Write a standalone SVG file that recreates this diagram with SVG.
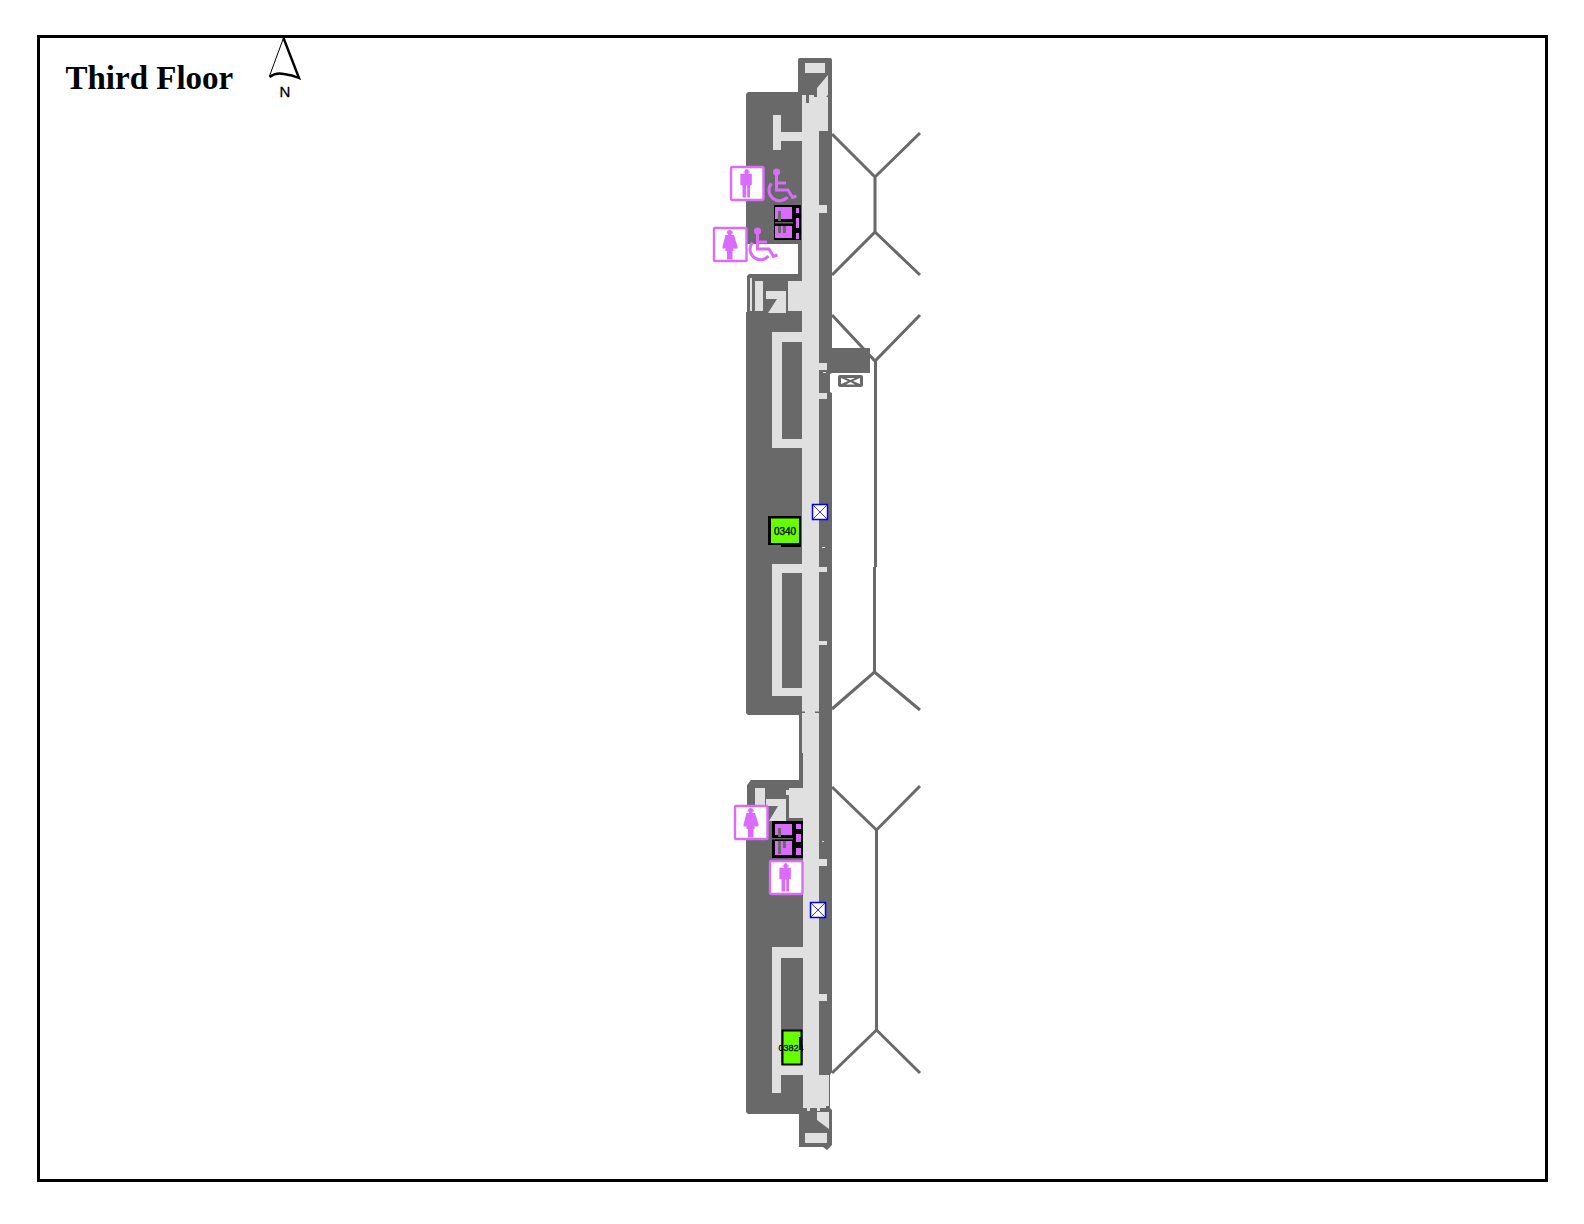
<svg xmlns="http://www.w3.org/2000/svg" xmlns:xlink="http://www.w3.org/1999/xlink" width="1584" height="1224" viewBox="0 0 1584 1224">
<style>
.dark{fill:#696969}
.light{fill:#e0e0e0}
.hex{fill:none;stroke:#696969;stroke-width:3;stroke-linejoin:miter}
.sign{fill:#fff;stroke:#db6bfb;stroke-width:2.400}
.mag{fill:#db6bfb}
.blk{fill:#000}
.gbar{fill:#696969}
.wc{fill:none;stroke:#db6bfb;stroke-width:3}
.x{fill:#fff;stroke:#00f;stroke-width:1.500}
.xl{stroke:#00f;stroke-width:.8}
.green{fill:#66ff00}
.num{font-family:"Liberation Sans",Arial,sans-serif;font-size:10px;fill:#000;stroke:#000;stroke-width:.3;text-anchor:middle}
</style>
<defs>
<g id="wheel">
<circle class="mag" cx="776.500" cy="172" r="3.600"/>
<path class="wc" d="M776.500 174V190H788L792.500 197.500L796.500 196"/>
<path class="wc" d="M776.500 183H786"/>
<path class="wc" d="M771.500 183.500A10 10 0 1 0 787.500 197"/>
</g>
<g id="male">
<rect class="sign" x="1" y="1" width="32.500" height="33" rx="1.500"/>
<path class="mag" d="M13.500 5.500H14.500Q15 3 16.700 3Q18.400 3 19 5.500H20V6.500H18.500V7.700H21.800V19.300H20V31.500H17.200V19.500H16.200V31.500H12.500V19.300H10.400V7.700H15V6.500H13.500Z"/>
</g>
<g id="female">
<rect class="sign" x="1" y="1" width="32.500" height="33" rx="1"/>
<path class="mag" d="M13.500 6.500Q14 3 16.700 3Q19.500 3 20 6.500H18.500V8H21L24.500 19.500V21.500H20.500V24H19.500V32.500H14V24H12.500V21.500H9.500V19.500L12.500 8H15V6.500Z"/>
</g>
</defs>
<rect width="1584" height="1224" fill="#fff"/>
<rect x="38.500" y="36.500" width="1508" height="1144" fill="none" stroke="#000" stroke-width="3"/>
<text x="65.500" y="89" font-family="'Liberation Serif','Times New Roman',serif" font-weight="700" font-size="33" fill="#000">Third Floor</text>
<g id="north">
<path d="M283.500 38L269.500 76Q276 72 284 74Q292 75 299 78Z" fill="#fff" stroke="#000" stroke-width="1"/>
<path d="M283.500 38L299 78Q292 75 284 74Q276 72 269.500 77" fill="none" stroke="#000" stroke-width="2.400"/>
<text x="285" y="97" font-family="'Liberation Sans',Arial,sans-serif" font-size="15" stroke="#000" stroke-width=".3" text-anchor="middle" fill="#000">N</text>
</g>
<g id="concourse-lines">
<path class="hex" d="M832 134L875 177L920 133M875 177V232M832 275L875 232L920 275"/>
<path class="hex" d="M832 315L875 361L920 315M875.500 361V567M874.500 567V672M832 709L874.500 672L920 710"/>
<path class="hex" d="M832 787L876.500 830L920 786M876.500 830V1030M832 1073L876.500 1030L920 1073"/>
</g>
<g id="building">
<path class="dark" d="M798 60Q798 58 800 58H830Q832 58 832 60V373L830 374V392L832 393V1072L830 1075V1108L832 1110V1145L827 1150L823 1147H799V1114H748L746 1112V805H747V785L751 780H799V715H748L746 713V312H747V276L749 274H798V244H746V94L748 92H798Z"/>
<g class="light">
<rect x="802" y="130" width="17" height="623"/>
<rect x="803" y="753" width="16" height="355"/>
<path d="M802 95H806V103H809V95H814V97H828V131H802Z"/>
<rect x="805" y="63" width="20" height="10"/>
<path d="M817 97V88L828 75V95L826 97Z"/>
<path d="M773 115H781V132H802V141H781V150H773Z"/>
<path d="M819 205H827V213H819Z"/>
<path d="M819 363H827V370H819Z"/>
<path d="M819 393H827V399H819Z"/>
<path d="M819 567H827V572H819Z"/>
<path d="M819 641H827V645H819Z"/>
<path d="M819 859H827V866H819Z"/>
<path d="M819 994H827V1001H819Z"/>
<rect x="823" y="372" width="3" height="1"/><rect x="822" y="547" width="3" height="1"/><rect x="822" y="841" width="2" height="1"/>
<rect x="750" y="278" width="2" height="33"/>
<rect x="755" y="281" width="8" height="30"/>
<path d="M766 291H786V313H768L777 299H766Z"/>
<rect x="788" y="281" width="15" height="30"/>
<path d="M772 332H802V342H782V439H802V448H772Z"/>
<path d="M772 564H802V573H782V688H802V696H772Z"/>
<rect x="755" y="788" width="10" height="17"/>
<path d="M766 799H786V821H769L778 806H766Z"/>
<rect x="789" y="788" width="15" height="30"/><rect x="786" y="790" width="3" height="5"/>
<path d="M772 947H803V958H781V1065H803V1075H781V1093H772Z"/>
<path d="M803 1075H829V1106H826V1108H820V1111H817V1108H810V1111H807V1108H803Z"/>
<path d="M817 1112H829V1129L817 1120Z"/>
<rect x="805" y="1133" width="22" height="10"/>
</g>
<g class="dark">
<rect x="832" y="348" width="38" height="25"/>
<rect x="802" y="711.500" width="3" height="1.500"/><rect x="815" y="711.500" width="4" height="1.500"/>
<rect x="838" y="375" width="25" height="12" rx="2"/>
</g>
<path d="M841 378L848 381L841 384ZM860 378L853 381L860 384ZM846 378H855L850.500 380ZM846 384.500H855L850.500 382Z" fill="#fff"/>
</g>
<g id="restrooms-north">
<rect class="blk" x="774" y="205" width="27" height="35"/>
<rect class="mag" x="775" y="207" width="17" height="12"/>
<rect class="mag" x="775" y="226" width="17" height="12"/>
<rect class="mag" x="796" y="208" width="3" height="5"/>
<rect class="mag" x="796" y="218" width="3" height="10"/>
<rect class="mag" x="796" y="233" width="3" height="6"/>
<rect class="gbar" x="775" y="222" width="18" height="1.500"/>
<rect class="gbar" x="778" y="211" width="3" height="10"/>
<rect class="gbar" x="778" y="226" width="3" height="7"/>
<rect class="gbar" x="783" y="226" width="3" height="7"/>
<use xlink:href="#wheel"/>
<use xlink:href="#wheel" x="-19" y="59"/>
<use xlink:href="#male" x="730" y="166"/>
<use xlink:href="#female" x="713" y="227"/>
</g>
<g id="restrooms-south">
<rect class="blk" x="772" y="821" width="31" height="37"/>
<rect class="mag" x="775" y="824" width="17" height="11"/>
<rect class="mag" x="775" y="841" width="17" height="14"/>
<rect class="mag" x="796" y="824" width="5" height="5"/>
<rect class="mag" x="796" y="834" width="5" height="8"/>
<rect class="mag" x="796" y="848" width="5" height="7"/>
<rect class="gbar" x="772" y="838" width="21" height="1.500"/>
<rect class="gbar" x="778" y="828" width="3" height="9"/>
<rect class="gbar" x="778" y="841" width="3" height="13"/>
<rect class="gbar" x="783" y="841" width="3" height="7"/>
<use xlink:href="#female" x="734" y="805"/>
<use xlink:href="#male" x="769" y="860"/>
</g>
<g id="room-0340">
<path class="blk" d="M768 516H801V547H781V545H768Z"/>
<rect class="green" x="771" y="518.500" width="28" height="24.500"/>
<text class="num" x="785" y="535">0340</text>
</g>
<g id="room-03824">
<rect class="green" x="782.500" y="1030.500" width="19" height="34" stroke="#000" stroke-width="2"/>
<rect class="blk" x="799" y="1037" width="3" height="13"/>
<text class="num" x="791" y="1051" style="font-size:9px">03824</text>
</g>
<g id="elev-1">
<rect class="x" x="812.500" y="504.500" width="15" height="15"/>
<path class="xl" d="M812.500 504.500L827.500 519.500M827.500 504.500L812.500 519.500"/>
</g>
<g id="elev-2">
<rect class="x" x="810.500" y="902.500" width="15" height="15"/>
<path class="xl" d="M810.500 902.500L825.500 917.500M825.500 902.500L810.500 917.500"/>
</g>
</svg>
